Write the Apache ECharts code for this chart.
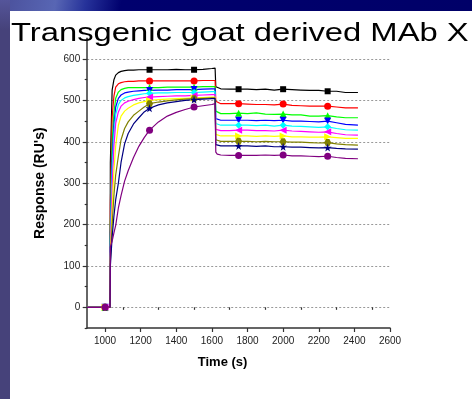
<!DOCTYPE html>
<html><head><meta charset="utf-8">
<script src="https://cdn.jsdelivr.net/npm/echarts@6/dist/echarts.min.js"></script>
<style>
html,body{margin:0;padding:0;background:#fff;}
#bgTop{position:absolute;left:0;top:0;width:472px;height:11px;background:linear-gradient(100deg,#4a4f9a 0px,#5866b4 55px,#26329a 85px,#00006e 120px,#000068 100%);}
#bgLeft{position:absolute;left:0;top:0;width:10px;height:399px;background:linear-gradient(180deg,#55559a 0px,#46427a 30px,#46427a 100%);}
#chart{position:absolute;left:0;top:0;width:472px;height:399px;}
</style></head><body>
<div id="bgTop"></div><div id="bgLeft"></div><div id="chart"></div>
<script>
const times = [900,1000,1028,1030,1040,1050,1060,1075,1090,1110,1130,1160,1190,1220,1250,1300,1350,1400,1450,1500,1550,1600,1618,1622,1630,1650,1700,1750,1800,1850,1900,1950,2000,2050,2100,2150,2200,2250,2300,2350,2420];
const black   = [0,0,0, 350,525,550,561,567,570,572,573,573,574,574,574,574,574,575,574,574,575,577,578, 533,529,528,527,527,527,526,527,525,527,526,525,524,524,522,522,519,519];
const red     = [0,0,0, 250,460,510,532,540,543,545,546,546,547,547,547,547,547,547,547,547,548,548,548, 498,494,492,492,492,491,490,490,489,491,488,487,486,486,486,484,482,482];
const green   = [0,0,0, 200,400,470,505,520,526,529,531,531,531,531,531,531,532,532,532,532,533,533,533, 474,470,468,468,469,468,470,467,466,467,465,465,462,462,463,460,458,458];
const blue    = [0,0,0, 180,360,440,484,505,513,518,520,522,523,524,524,525,525,526,526,526,527,528,528, 456,453,452,452,452,452,451,452,451,452,450,450,449,448,450,446,442,440];
const cyan    = [0,0,0, 160,330,420,466,490,500,506,509,512,514,516,517,518,518,519,519,519,520,521,521, 444,441,440,440,440,440,439,440,438,440,438,437,436,435,436,432,429,428];
const magenta = [0,0,0, 140,290,390,445,472,486,494,498,502,505,507,508,509,510,511,511,512,513,514,514, 430,428,427,427,428,428,427,427,426,428,426,425,424,423,424,420,417,416];
const yellow  = [0,0,0, 120,240,330,390,440,462,474,481,489,494,497,500,502,503,504,505,506,507,508,508, 418,415,414,414,414,414,413,414,413,414,412,412,411,411,412,410,408,408];
const olive   = [0,0,0, 110,200,270,320,365,405,432,448,464,474,484,492,496,499,501,503,504,505,506,506, 405,402,401,401,401,401,400,401,400,400,399,399,398,397,398,395,393,392];
const navy    = [0,0,0, 100,170,220,260,300,350,395,420,443,458,472,481,489,494,497,500,502,503,504,504, 393,391,390,390,390,390,389,390,388,388,387,387,386,385,386,384,383,382];
const purple  = [0,0,0, 146,160,180,198,240,270,305,330,362,389,410,428,448,462,471,478,484,487,490,492, 375,370,368,367,367,367,367,368,367,368,366,366,365,364,365,362,360,359];
const markerTimes = [1000,1250,1500,1750,2000,2250];
const xTickLabels = [1000,1200,1400,1600,1800,2000,2200,2400,2600];
const xMinorTicks = [1100,1300,1500,1700,1900,2100,2300,2500];
const yTickLabels = [0,100,200,300,400,500,600];
const yMinorTicks = [-50,50,150,250,350,450,550];
const titleText = 'Transgenic goat derived MAb X';
const xName = 'Time (s)';
const yName = "Response (RU's)";

const allSeries = [black,red,green,blue,cyan,magenta,yellow,olive,navy,purple];
const colors = ['#000000','#ff0000','#00ff00','#0000ff','#00ffff','#ff00ff','#ffff00','#808000','#000080','#800080'];
const hexPath = 'path://M25,0 L75,0 L100,50 L75,100 L25,100 L0,50 Z';
const starPath = 'path://M50,0 L61,35 L98,35 L68,57 L79,91 L50,70 L21,91 L32,57 L2,35 L39,35 Z';
const symbols = ['rect','circle','triangle','triangle','diamond','triangle','triangle',hexPath,starPath,'circle'];
const rotates = [0,0,0,180,0,90,-90,0,0,0];
const sizes = [6,7,7,7,7,7,7,7,8,7];

const font = '"Liberation Sans", Arial, sans-serif';
const series = [];
allSeries.forEach((vals, k) => {
  series.push({type:'line', data: times.map((t,i)=>[t, vals[i]]), showSymbol:false, symbol:'none',
    lineStyle:{color:colors[k], width:1.2}, itemStyle:{color:colors[k]}, z: 2+k, silent:true});
});
allSeries.forEach((vals, k) => {
  series.push({type:'scatter', data: markerTimes.map(t=>[t, vals[times.indexOf(t)]]),
    symbol:symbols[k], symbolSize:sizes[k], symbolRotate:rotates[k], itemStyle:{color:colors[k], opacity:1}, z: 20+k, silent:true});
});

const chart = echarts.init(document.getElementById('chart'), null, {renderer:'canvas'});
const axisColor = '#333';
const plain = v => String(v);
chart.setOption({
  animation:false,
  backgroundColor:'transparent',
  grid:{left:87.2, right:82, top:38.3, bottom:71, containLabel:false},
  graphic:[{type:'text', x:11, y:21, scaleX:1.26, z:100,
    style:{text:titleText, font:'26px ' + font, fill:'#000', verticalAlign:'top'}}],
  xAxis:[{
    type:'value', min:900, max:2600, interval:100,
    name:xName, nameLocation:'middle', nameGap:28,
    nameTextStyle:{fontFamily:font, fontSize:13, fontWeight:'bold', color:'#000', padding:[0,32,0,0]},
    axisLine:{show:true, onZero:false, lineStyle:{color:axisColor, width:1.5}},
    axisTick:{show:true, length:4, customValues:xTickLabels, lineStyle:{color:axisColor, width:1.2}},
    axisLabel:{customValues:xTickLabels, formatter:plain, fontFamily:font, fontSize:10, color:'#222', margin:8},
    splitLine:{show:false}
  },{
    type:'value', min:900, max:2600, position:'bottom',
    axisLine:{show:false}, axisLabel:{show:false}, splitLine:{show:false},
    axisTick:{show:true, length:2.5, customValues:xMinorTicks, lineStyle:{color:axisColor, width:1.2}}
  }],
  yAxis:[{
    type:'value', min:-50, max:650,
    name:yName, nameLocation:'middle', nameGap:40,
    nameTextStyle:{fontFamily:font, fontSize:14, fontWeight:'bold', color:'#000'},
    axisLine:{show:true, onZero:false, lineStyle:{color:axisColor, width:1.5}},
    axisTick:{show:true, length:4.5, customValues:yTickLabels, lineStyle:{color:axisColor, width:1.2}},
    axisLabel:{customValues:yTickLabels, formatter:plain, fontFamily:font, fontSize:10, color:'#222', margin:7},
    splitLine:{show:true, lineStyle:{color:'#999', width:1, type:[2,2]}}
  },{
    type:'value', min:-50, max:650, position:'left',
    axisLine:{show:false}, axisLabel:{show:false}, splitLine:{show:false},
    axisTick:{show:true, length:2.5, customValues:yMinorTicks, lineStyle:{color:axisColor, width:1.2}}
  }],
  series: series
});
</script>
</body></html>
